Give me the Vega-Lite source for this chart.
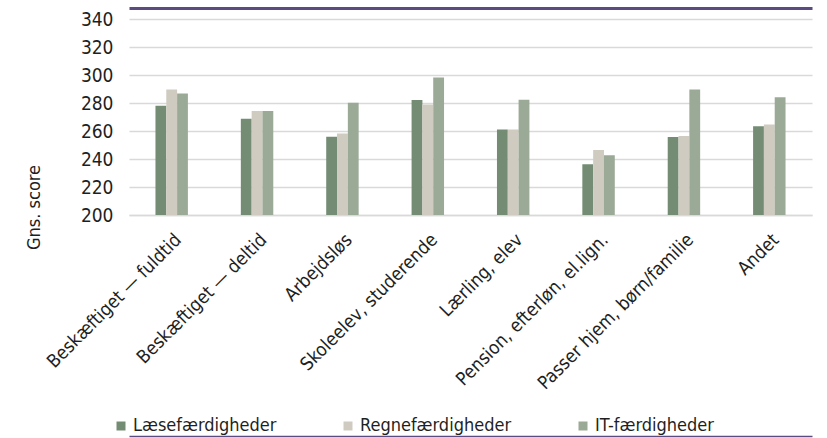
{
  "$schema": "https://vega.github.io/schema/vega-lite/v6.json",
  "width": 683,
  "height": 196,
  "autosize": {"type": "none"},
  "padding": {"left": 129, "top": 19, "right": 15, "bottom": 223},
  "background": "#ffffff",
  "config": {
    "font": "DejaVu Sans Condensed, Roboto Condensed, Roboto",
    "view": {"stroke": null},
    "axis": {"labelColor": "#1f1f1f", "titleColor": "#1f1f1f"}
  },
  "data": {
    "values": [
      {"cat": "Beskæftiget — fuldtid", "serie": "Læsefærdigheder", "value": 278.1},
      {"cat": "Beskæftiget — fuldtid", "serie": "Regnefærdigheder", "value": 289.6},
      {"cat": "Beskæftiget — fuldtid", "serie": "IT-færdigheder", "value": 286.7},
      {"cat": "Beskæftiget — deltid", "serie": "Læsefærdigheder", "value": 268.7},
      {"cat": "Beskæftiget — deltid", "serie": "Regnefærdigheder", "value": 274.3},
      {"cat": "Beskæftiget — deltid", "serie": "IT-færdigheder", "value": 274.3},
      {"cat": "Arbejdsløs", "serie": "Læsefærdigheder", "value": 255.9},
      {"cat": "Arbejdsløs", "serie": "Regnefærdigheder", "value": 258.3},
      {"cat": "Arbejdsløs", "serie": "IT-færdigheder", "value": 280.2},
      {"cat": "Skoleelev, studerende", "serie": "Læsefærdigheder", "value": 282.2},
      {"cat": "Skoleelev, studerende", "serie": "Regnefærdigheder", "value": 279.0},
      {"cat": "Skoleelev, studerende", "serie": "IT-færdigheder", "value": 298.3},
      {"cat": "Lærling, elev", "serie": "Læsefærdigheder", "value": 261.0},
      {"cat": "Lærling, elev", "serie": "Regnefærdigheder", "value": 261.0},
      {"cat": "Lærling, elev", "serie": "IT-færdigheder", "value": 282.4},
      {"cat": "Pension, efterløn, el.lign.", "serie": "Læsefærdigheder", "value": 236.2},
      {"cat": "Pension, efterløn, el.lign.", "serie": "Regnefærdigheder", "value": 246.5},
      {"cat": "Pension, efterløn, el.lign.", "serie": "IT-færdigheder", "value": 242.6},
      {"cat": "Passer hjem, børn/familie", "serie": "Læsefærdigheder", "value": 255.8},
      {"cat": "Passer hjem, børn/familie", "serie": "Regnefærdigheder", "value": 256.5},
      {"cat": "Passer hjem, børn/familie", "serie": "IT-færdigheder", "value": 289.6},
      {"cat": "Andet", "serie": "Læsefærdigheder", "value": 263.4},
      {"cat": "Andet", "serie": "Regnefærdigheder", "value": 264.6},
      {"cat": "Andet", "serie": "IT-færdigheder", "value": 284.1}
    ]
  },
  "layer": [
    {
      "mark": {"type": "bar", "clip": true},
      "encoding": {
        "x": {
          "field": "cat", "type": "nominal", "sort": null,
          "scale": {"paddingInner": 0.62, "paddingOuter": 0.31},
          "axis": {
            "title": null, "labelAngle": -45, "labelFontSize": 18.5, "labelPadding": 15,
            "labelDx": -10, "labelDy": -3,
            "ticks": false, "domainColor": "#d9d9d9", "domainWidth": 1.5, "labelLimit": 300
          }
        },
        "xOffset": {
          "field": "serie", "type": "nominal",
          "sort": ["Læsefærdigheder", "Regnefærdigheder", "IT-færdigheder"]
        },
        "y": {
          "field": "value", "type": "quantitative",
          "scale": {"domain": [200, 340], "zero": false, "nice": false},
          "axis": {
            "values": [200, 220, 240, 260, 280, 300, 320, 340],
            "labelOverlap": false,
            "title": "Gns. score", "titleFontSize": 18, "titleFontWeight": "normal",
            "titleX": -86, "titleY": 188, "titleAngle": -90,
            "labelFontSize": 19, "labelPadding": 16, "domain": false, "ticks": false,
            "gridColor": "#d9d9d9", "gridWidth": 1.5
          }
        },
        "color": {
          "field": "serie", "type": "nominal",
          "sort": ["Læsefærdigheder", "Regnefærdigheder", "IT-færdigheder"],
          "scale": {
            "domain": ["Læsefærdigheder", "Regnefærdigheder", "IT-færdigheder"],
            "range": ["#738c73", "#cfcbc0", "#9baa96"]
          },
          "legend": {
            "title": null, "orient": "none", "direction": "horizontal",
            "legendX": -17, "legendY": 398, "symbolType": "square", "symbolSize": 81,
            "symbolStrokeWidth": 0, "labelFontSize": 18, "labelColor": "#1f1f1f",
            "columnPadding": 62, "labelOffset": 3
          }
        }
      }
    },
    {
      "mark": {"type": "rule", "opacity": 0},
      "encoding": {
        "x": {
          "field": "cat", "type": "nominal", "sort": null,
          "axis": {
            "orient": "top", "title": null, "labels": false, "ticks": false,
            "domainColor": "#5b4b80", "domainWidth": 3, "offset": 11
          }
        }
      }
    },
    {
      "mark": {"type": "rule", "opacity": 0},
      "encoding": {
        "x": {
          "field": "cat", "type": "nominal", "sort": null,
          "axis": {
            "orient": "bottom", "title": null, "labels": false, "ticks": false,
            "domainColor": "#5b4b80", "domainWidth": 1.5, "offset": 221
          }
        }
      }
    }
  ],
  "resolve": {"axis": {"x": "independent"}}
}
